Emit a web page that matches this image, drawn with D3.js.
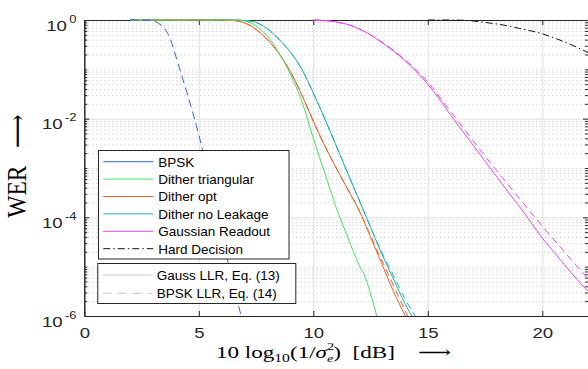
<!DOCTYPE html>
<html lang="en">
<head>
<meta charset="UTF-8"/>
<title>WER</title>
<script src="https://d3js.org/d3.v7.min.js"></script>
<style>
  body { margin: 0; background: #fff; }
  svg text { font-family: "Liberation Sans", Arial, sans-serif; }
</style>
</head>
<body>
<script>
var w = 588, h = 369;
var m = { left: 84.3, right: 588.1, top: 20, bottom: 316 };

// tick values
var xTicks = [0, 5, 10, 15, 20];
var yTickExp = [0, -2, -4, -6];

// BPSK (only drawn with the dashed Eq. (14) style)
var bpskX   = [2, 2.5, 3, 3.25, 3.5, 3.75, 4, 4.25, 4.5, 4.75, 5, 5.5, 6, 6.5, 6.85];
var bpskWer = [1, 1, 0.977, 0.851, 0.676, 0.417, 0.182, 0.0759, 0.0316, 0.0126, 0.00468, 5.0e-4, 4.47e-5, 4.47e-6, 1e-6];

// Dither triangular
var triX   = [2, 6.5, 7, 7.5, 8, 8.5, 9, 9.5, 10, 10.5, 11, 11.5, 12, 12.3, 12.5, 12.77];
var triWer = [1, 1, 0.955, 0.759, 0.468, 0.214, 0.0794, 0.0224, 0.00398, 7.94e-4, 1.58e-4, 3.98e-5, 1.07e-5, 5.62e-6, 2.82e-6, 1e-6];

// Dither opt
var optX   = [2, 6, 6.5, 7, 7.5, 8, 8.5, 9, 9.5, 10, 10.5, 11, 11.5, 12, 12.5, 13, 13.5, 14.02];
var optWer = [1, 1, 0.977, 0.871, 0.646, 0.398, 0.209, 0.0891, 0.0302, 0.00891, 0.00282, 0.001, 3.72e-4, 1.38e-4, 3.98e-5, 1.12e-5, 3.16e-6, 1e-6];
var optDashX   = [2, 6, 6.5, 7, 7.5, 8, 8.5, 9, 9.5, 10, 10.5, 11, 11.5, 12, 12.5, 13, 13.5, 14.12];
var optDashWer = [1, 1, 0.977, 0.871, 0.646, 0.398, 0.209, 0.0891, 0.0302, 0.00891, 0.00282, 0.001, 3.72e-4, 1.38e-4, 4.27e-5, 1.32e-5, 4.17e-6, 1e-6];

// Dither no Leakage
var noLeakX   = [2, 6.5, 7, 7.5, 8, 8.5, 9, 9.5, 10, 10.5, 11, 11.5, 12, 12.5, 13, 13.5, 14, 14.3];
var noLeakWer = [1, 1, 0.977, 0.891, 0.661, 0.407, 0.224, 0.1, 0.0331, 0.01, 0.00282, 7.94e-4, 2.24e-4, 6.31e-5, 1.78e-5, 5.62e-6, 1.78e-6, 1e-6];
var noLeakDashX   = [2, 6.5, 7, 7.5, 8, 8.5, 9, 9.5, 10, 10.5, 11, 11.5, 12, 12.5, 13, 13.5, 14, 14.45];
var noLeakDashWer = [1, 1, 0.977, 0.891, 0.661, 0.407, 0.224, 0.1, 0.0331, 0.01, 0.00282, 7.94e-4, 2.24e-4, 6.31e-5, 1.91e-5, 6.61e-6, 2.24e-6, 1e-6];

// Gaussian Readout
var gaussX   = [10, 10.5, 11, 11.5, 12, 12.5, 13, 13.5, 14, 14.5, 15, 15.5, 16, 16.5, 17, 17.5, 18, 18.5, 19, 19.5, 20, 20.5, 21, 21.5, 22];
var gaussWer = [1, 0.977, 0.912, 0.813, 0.661, 0.501, 0.347, 0.234, 0.151, 0.0891, 0.0501, 0.0251, 0.0117, 0.00575, 0.00282, 0.00138, 6.76e-4, 3.31e-4, 1.66e-4, 7.94e-5, 3.80e-5, 2.0e-5, 1.05e-5, 5.62e-6, 3.16e-6];
var gaussDashX   = [10, 11, 12, 13, 14, 15, 16, 17, 18, 19, 20, 21, 22];
var gaussDashWer = [1, 0.912, 0.661, 0.355, 0.158, 0.055, 0.0138, 0.00347, 8.91e-4, 2.40e-4, 6.61e-5, 1.91e-5, 5.62e-6];

// Hard Decision
var hardX   = [15, 16, 16.5, 17, 17.5, 18, 18.5, 19, 19.5, 20, 20.5, 21, 21.5, 22];
var hardWer = [1, 1, 0.989, 0.955, 0.891, 0.832, 0.759, 0.676, 0.603, 0.525, 0.437, 0.355, 0.282, 0.219];

var legend1 = ["BPSK", "Dither triangular", "Dither opt", "Dither no Leakage", "Gaussian Readout", "Hard Decision"];
var legend2 = ["Gauss LLR, Eq. (13)", "BPSK LLR, Eq. (14)"];

var cBlue = "#2f62e0", cGreen = "#3fe566", cOrange = "#f0602a", cCyan = "#1fb2b4", cMag = "#ee44ee", cBlack = "#111";

var svg = d3.select("body").append("svg").attr("width", w).attr("height", h);

var xScale = d3.scaleLinear().domain([0, 22]).range([m.left, m.right]);
var yScale = d3.scaleLog().domain([1e-6, 1]).range([m.bottom, m.top]);

var majorY = yTickExp.map(function(e) { return Math.pow(10, e); });
var minorY = [];
for (var e = -6; e < 0; e++) {
    for (var k = 1; k <= 9; k++) {
        if (k === 1 && e % 2 === 0) continue;
        minorY.push(k * Math.pow(10, e));
    }
}

// grid
svg.append("g")
    .attr("transform", "translate(" + m.left + ",0)")
    .call(d3.axisLeft(yScale).tickValues(minorY).tickSize(-(m.right - m.left)).tickFormat(""))
    .call(function(g) {
        g.select(".domain").remove();
        g.selectAll("line").attr("stroke", "#c4c4c4").attr("stroke-dasharray", "1,3");
    });
svg.append("g")
    .attr("transform", "translate(" + m.left + ",0)")
    .call(d3.axisLeft(yScale).tickValues(majorY).tickSize(-(m.right - m.left)).tickFormat(""))
    .call(function(g) {
        g.select(".domain").remove();
        g.selectAll("line").attr("stroke", "#e0e0e0");
    });
svg.append("g")
    .attr("transform", "translate(0," + m.bottom + ")")
    .call(d3.axisBottom(xScale).tickValues(xTicks).tickSize(-(m.bottom - m.top)).tickFormat(""))
    .call(function(g) {
        g.select(".domain").remove();
        g.selectAll("line").attr("stroke", "#e0e0e0");
    });

// axes
function styleAxis(g) {
    g.select(".domain").attr("stroke", "#262626");
    g.selectAll(".tick line").attr("stroke", "#262626");
}
svg.append("g")
    .attr("transform", "translate(0," + m.bottom + ")")
    .call(d3.axisBottom(xScale).tickValues(xTicks).tickSizeInner(-5).tickSizeOuter(0).tickPadding(11.5).tickFormat(d3.format("d")))
    .call(styleAxis)
    .call(function(g) {
        g.selectAll("text").attr("font-size", 15.5).attr("fill", "#262626")
            .attr("transform", "scale(1.2,1)");
    });
svg.append("g")
    .attr("transform", "translate(0," + m.top + ")")
    .call(d3.axisTop(xScale).tickValues(xTicks).tickSizeInner(-5).tickSizeOuter(0).tickFormat(""))
    .call(styleAxis);
svg.append("g")
    .attr("transform", "translate(" + m.left + ",0)")
    .call(d3.axisLeft(yScale).tickValues(majorY).tickSizeInner(-5).tickSizeOuter(0).tickFormat(""))
    .call(styleAxis);
svg.append("g")
    .attr("transform", "translate(" + m.left + ",0)")
    .call(d3.axisLeft(yScale).tickValues(minorY).tickSizeInner(-3).tickSizeOuter(0).tickFormat(""))
    .call(styleAxis);
svg.append("g")
    .attr("transform", "translate(" + m.right + ",0)")
    .call(d3.axisRight(yScale).tickValues(majorY).tickSizeInner(-5).tickSizeOuter(0).tickFormat(""))
    .call(styleAxis);
svg.append("g")
    .attr("transform", "translate(" + m.right + ",0)")
    .call(d3.axisRight(yScale).tickValues(minorY).tickSizeInner(-3).tickSizeOuter(0).tickFormat(""))
    .call(styleAxis);

// y tick labels 10^e
yTickExp.forEach(function(e) {
    var y = yScale(Math.pow(10, e));
    var g = svg.append("g").attr("transform", "translate(76.5," + y + ") scale(1.2,1)");
    var sup = g.append("text").attr("y", 2.5).attr("font-size", 10.8).attr("fill", "#262626")
        .attr("text-anchor", "end").text(e === 0 ? "0" : "-" + (-e));
    var ws = sup.node().getComputedTextLength();
    g.append("text").attr("x", -ws - 2).attr("y", 10.5).attr("font-size", 15.5).attr("fill", "#262626")
        .attr("text-anchor", "end").text("10");
});

// curves
svg.append("clipPath").attr("id", "clip")
    .append("rect").attr("x", m.left).attr("y", m.top - 2).attr("width", m.right - m.left).attr("height", m.bottom - m.top + 4);
var plot = svg.append("g").attr("clip-path", "url(#clip)");

var line = d3.line()
    .x(function(d) { return xScale(d[0]); })
    .y(function(d) { return yScale(d[1]); })
    .curve(d3.curveMonotoneX);

function drawCurve(xs, ys, color, dash) {
    var pts = xs.map(function(x, i) { return [x, ys[i]]; });
    plot.append("path")
        .datum(pts)
        .attr("d", line)
        .attr("fill", "none")
        .attr("stroke", color)
        .attr("stroke-width", 1)
        .attr("stroke-dasharray", dash || null);
}

drawCurve(hardX, hardWer, cBlack, "7,3,1.5,3");
drawCurve(gaussDashX, gaussDashWer, cMag, "7,4.5");
drawCurve(gaussX, gaussWer, cMag);
drawCurve(noLeakDashX, noLeakDashWer, cCyan, "7,4.5");
drawCurve(noLeakX, noLeakWer, cCyan);
drawCurve(optDashX, optDashWer, cOrange, "7,4.5");
drawCurve(optX, optWer, cOrange);
drawCurve(triX, triWer, cGreen);
drawCurve(bpskX, bpskWer, cBlue, "8,4.5");

// legends
var l1 = svg.append("g");
l1.append("rect").attr("x", 98.5).attr("y", 150.5).attr("width", 190.5).attr("height", 108.5)
    .attr("fill", "#fff").attr("stroke", "#262626").attr("stroke-width", 1);
var l1Colors = [cBlue, cGreen, cOrange, cCyan, cMag, cBlack];
legend1.forEach(function(name, i) {
    var y = 161.7 + i * 17.4;
    l1.append("line").attr("x1", 103.3).attr("x2", 153.3).attr("y1", y).attr("y2", y)
        .attr("stroke", l1Colors[i]).attr("stroke-width", 1)
        .attr("stroke-dasharray", i === 5 ? "7,3,1.5,3" : null);
    l1.append("text").attr("x", 158.3).attr("y", y + 4.8).attr("font-size", 13.5).attr("fill", "#000").text(name);
});

var l2 = svg.append("g");
l2.append("rect").attr("x", 97.8).attr("y", 263.5).attr("width", 198).attr("height", 40)
    .attr("fill", "#fff").attr("stroke", "#262626").attr("stroke-width", 1);
legend2.forEach(function(name, i) {
    var y = 275 + i * 18.3;
    l2.append("line").attr("x1", 102.7).attr("x2", 151.7).attr("y1", y).attr("y2", y)
        .attr("stroke", "#c8c8c8").attr("stroke-width", 1)
        .attr("stroke-dasharray", i === 1 ? "9,6" : null);
    l2.append("text").attr("x", 156.7).attr("y", y + 4.8).attr("font-size", 13.5).attr("fill", "#000").text(name);
});

// axis labels
var xl = svg.append("text")
    .attr("transform", "translate(333.5,357.5) scale(1.36,1)")
    .attr("text-anchor", "middle")
    .attr("font-size", 17)
    .attr("fill", "#000")
    .style("font-family", "'Liberation Serif', 'DejaVu Serif', serif")
    .style("white-space", "pre");
xl.append("tspan").text("10 log");
xl.append("tspan").attr("font-size", 11.5).attr("dy", 4).text("10");
xl.append("tspan").attr("dy", -4).text("(1/");
xl.append("tspan").attr("font-style", "italic").text("σ");
xl.append("tspan").attr("font-size", 10.5).attr("dy", -8).text("2");
xl.append("tspan").attr("font-size", 10.5).attr("font-style", "italic").attr("dx", -5.3).attr("dy", 12.5).text("e");
xl.append("tspan").attr("dy", -4.5).text(")  [dB]    ⟶");

svg.append("text")
    .attr("transform", "translate(26,166) rotate(-90) scale(1,1.12)")
    .attr("text-anchor", "middle")
    .attr("font-size", 23.5)
    .attr("fill", "#000")
    .style("font-family", "'Liberation Serif', 'DejaVu Serif', serif")
    .style("white-space", "pre")
    .text("WER   ⟶");
</script>
</body>
</html>
